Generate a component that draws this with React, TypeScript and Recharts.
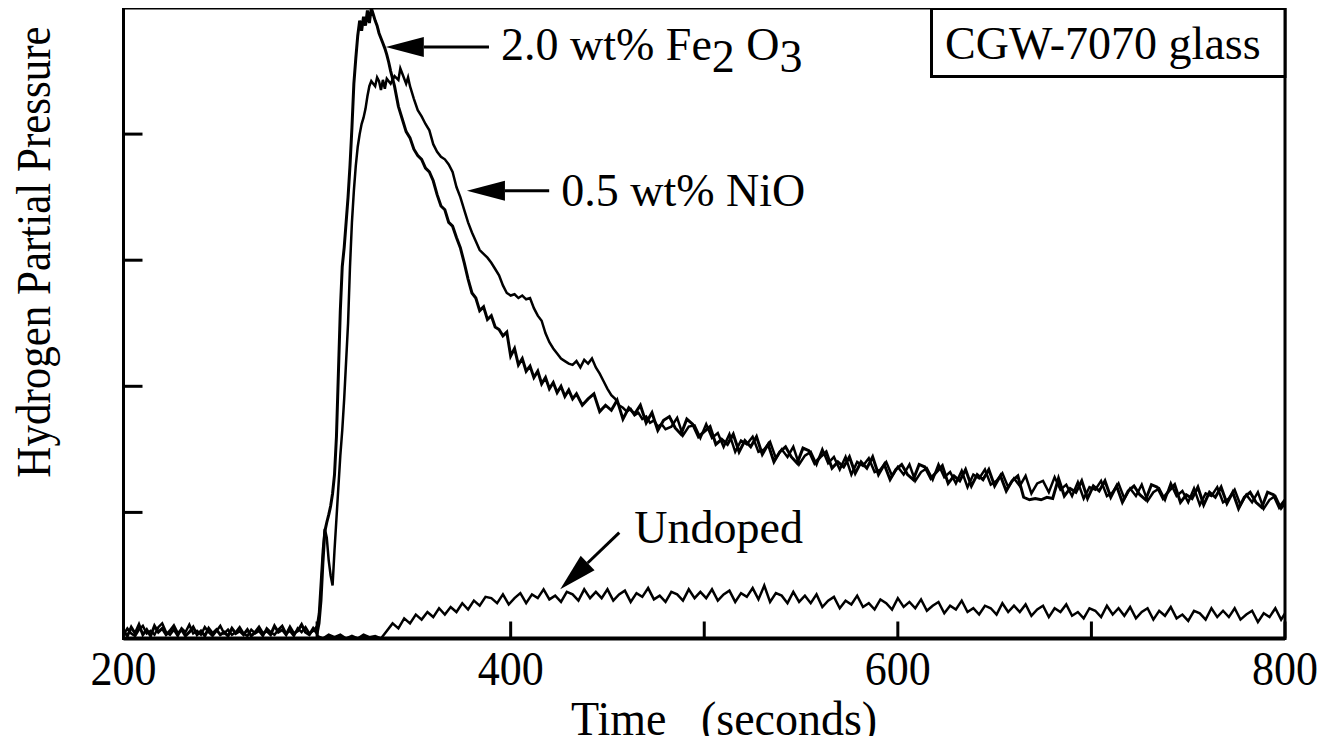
import type { ReactNode } from 'react'
import { LineChart, Line, XAxis, YAxis, ReferenceLine, ReferenceArea } from 'recharts'

const W = 1327
const H = 744
const FONT = '"Liberation Serif", "Times New Roman", serif'
const INK = '#000'

// axis ticks (x labelled every 200 s, y unlabelled)
const X_TICKS = [200, 300, 400, 500, 600, 700, 800]
const X_LABELLED = [200, 400, 600, 800]
const Y_TICKS = [1, 2, 3, 4]

// [time (s), pressure (arb.)]
const FE2O3: [number, number][] = [
  [200, 0.06], [202, 0.02], [204, 0.09], [206, 0.04], [208, 0.11], [210, 0.03], [212, 0.07], [214, 0.02],
  [216, 0.1], [218, 0.05], [220, 0.08], [222, 0.03], [224, 0.06], [226, 0.1], [228, 0.04], [230, 0.07],
  [232, 0.02], [234, 0.05], [236, 0.09], [238, 0.03], [240, 0.06], [242, 0.02], [244, 0.08], [246, 0.04],
  [248, 0.07], [250, 0.03], [252, 0.05], [254, 0.02], [256, 0.08], [258, 0.04], [260, 0.06], [262, 0.03],
  [264, 0.07], [266, 0.02], [268, 0.05], [270, 0.09], [272, 0.04], [274, 0.06], [276, 0.03], [278, 0.1],
  [280, 0.05], [282, 0.07], [284, 0.03], [286, 0.09], [288, 0.04], [290, 0.06], [292, 0.11], [294, 0.05],
  [296, 0.03], [298, 0.08], [300, 0.04],
  [301, 0.12], [302, 0.3], [303, 0.6], [304, 0.85], [305, 0.92], [306, 0.98], [307, 1.05], [308, 1.15],
  [309, 1.3], [310, 1.6], [311, 2.1], [312, 2.6], [313, 2.95], [314, 3.1], [315, 3.3], [316, 3.5],
  [317, 3.75], [318, 4.05], [319, 4.4], [320, 4.6], [321, 4.78], [322, 4.9], [323, 4.82], [324, 4.93],
  [325, 4.86], [326, 4.98], [327, 4.88], [328, 5.0], [329, 4.95], [330, 4.9], [331, 4.86], [332, 4.8],
  [333, 4.76], [334, 4.72], [335, 4.68], [336, 4.63], [337, 4.57], [338, 4.5], [339, 4.44], [340, 4.38],
  [342, 4.22], [344, 4.12], [346, 4.02], [348, 3.97], [350, 3.88], [352, 3.83], [354, 3.8], [356, 3.73],
  [358, 3.7], [360, 3.63], [362, 3.52], [364, 3.43], [366, 3.4], [368, 3.3], [370, 3.27], [372, 3.18],
  [374, 3.1], [376, 2.98], [378, 2.85], [380, 2.74], [382, 2.7], [384, 2.6], [386, 2.63], [388, 2.53],
  [390, 2.56], [392, 2.47], [394, 2.45], [396, 2.4], [398, 2.43], [400, 2.24], [402, 2.3], [404, 2.17],
  [406, 2.22], [408, 2.12], [410, 2.16], [412, 2.07], [414, 2.12], [416, 2.02], [418, 2.07], [420, 1.98],
  [422, 2.03], [424, 1.95], [426, 2.0], [428, 1.92], [430, 1.97], [432, 1.9],
  [434, 1.94], [437, 1.85], [440, 1.9], [443, 1.94], [446, 1.8], [449, 1.85], [452, 1.81], [455, 1.89],
  [458, 1.74], [461, 1.83], [464, 1.78], [467, 1.85], [470, 1.71], [473, 1.79], [476, 1.65], [479, 1.73],
  [482, 1.76], [485, 1.67], [488, 1.62], [491, 1.74], [494, 1.7], [497, 1.6], [500, 1.64], [503, 1.68],
  [506, 1.54], [509, 1.58], [512, 1.54], [515, 1.62], [518, 1.48], [521, 1.57], [524, 1.52], [527, 1.6],
  [530, 1.46], [533, 1.54], [536, 1.4], [539, 1.48], [542, 1.52], [545, 1.44], [548, 1.39], [551, 1.51],
  [554, 1.49], [557, 1.39], [560, 1.44], [563, 1.48], [566, 1.35], [569, 1.4], [572, 1.36], [575, 1.44],
  [578, 1.31], [581, 1.4], [584, 1.35], [587, 1.44], [590, 1.3], [593, 1.38], [596, 1.26], [599, 1.34],
  [602, 1.38], [605, 1.3], [608, 1.26], [611, 1.38], [614, 1.36], [617, 1.27], [620, 1.32], [623, 1.37],
  [626, 1.23], [629, 1.29], [632, 1.25], [635, 1.34], [638, 1.21], [641, 1.3], [644, 1.26], [647, 1.34],
  [650, 1.21], [653, 1.29], [656, 1.17], [659, 1.25], [662, 1.29], [665, 1.12], [668, 1.1], [671, 1.11],
  [674, 1.1], [677, 1.12], [680, 1.11], [683, 1.27], [686, 1.13], [689, 1.19], [692, 1.16], [695, 1.25],
  [698, 1.11], [701, 1.21], [704, 1.17], [707, 1.25], [710, 1.12], [713, 1.21], [716, 1.08], [719, 1.17],
  [722, 1.21], [725, 1.14], [728, 1.1], [731, 1.22], [734, 1.2], [737, 1.11], [740, 1.17], [743, 1.22],
  [746, 1.08], [749, 1.14], [752, 1.11], [755, 1.2], [758, 1.06], [761, 1.16], [764, 1.12], [767, 1.2],
  [770, 1.07], [773, 1.16], [776, 1.03], [779, 1.12], [782, 1.16], [785, 1.08], [788, 1.04], [791, 1.16],
  [794, 1.14], [797, 1.04], [800, 1.1],
]

const NIO: [number, number][] = [
  [200, 0.03], [202, 0.08], [204, 0.04], [206, 0.02], [208, 0.07], [210, 0.1], [212, 0.04], [214, 0.06],
  [216, 0.03], [218, 0.09], [220, 0.12], [222, 0.05], [224, 0.03], [226, 0.07], [228, 0.02], [230, 0.08],
  [232, 0.05], [234, 0.11], [236, 0.04], [238, 0.06], [240, 0.03], [242, 0.09], [244, 0.05], [246, 0.02],
  [248, 0.06], [250, 0.1], [252, 0.04], [254, 0.07], [256, 0.03], [258, 0.05], [260, 0.09], [262, 0.04],
  [264, 0.02], [266, 0.07], [268, 0.04], [270, 0.06], [272, 0.02], [274, 0.08], [276, 0.05], [278, 0.03],
  [280, 0.07], [282, 0.1], [284, 0.04], [286, 0.06], [288, 0.02], [290, 0.08], [292, 0.05], [294, 0.09],
  [296, 0.04], [298, 0.06], [300, 0.1],
  [301, 0.2], [302, 0.45], [303, 0.7], [304, 0.87], [305, 0.8], [306, 0.62], [307, 0.5], [308, 0.42],
  [309, 0.7], [310, 0.95], [311, 1.2], [312, 1.45], [313, 1.65], [314, 1.9], [315, 2.2], [316, 2.5],
  [317, 2.95], [318, 3.3], [319, 3.55], [320, 3.75], [321, 3.9], [322, 4.0], [323, 4.08], [324, 4.13],
  [325, 4.2], [326, 4.3], [327, 4.38], [328, 4.42], [330, 4.38], [331, 4.45], [332, 4.42], [333, 4.35],
  [334, 4.43], [335, 4.36], [336, 4.44], [338, 4.4], [340, 4.46], [342, 4.43], [343, 4.52], [344, 4.48],
  [346, 4.4], [347, 4.45], [348, 4.38], [350, 4.28], [352, 4.19], [354, 4.14], [356, 4.08], [358, 4.03],
  [360, 3.92], [362, 3.86], [364, 3.82], [366, 3.8], [368, 3.76], [370, 3.7], [372, 3.58], [374, 3.5],
  [376, 3.4], [378, 3.3], [380, 3.22], [382, 3.15], [384, 3.08], [386, 3.05], [388, 3.02], [390, 2.98],
  [392, 2.93], [394, 2.88], [396, 2.8], [398, 2.74], [400, 2.72], [402, 2.73], [404, 2.7], [406, 2.72],
  [408, 2.69], [410, 2.7], [412, 2.62], [414, 2.56], [416, 2.52], [418, 2.42], [420, 2.35], [422, 2.3],
  [424, 2.26], [426, 2.22], [428, 2.2], [430, 2.18], [432, 2.17], [434, 2.2], [436, 2.15], [438, 2.21],
  [440, 2.18], [442, 2.22], [444, 2.15], [446, 2.1], [448, 2.04], [450, 1.98], [452, 1.93], [454, 1.9],
  [456, 1.85], [458, 1.83], [460, 1.8], [462, 1.82], [464, 1.77], [466, 1.79], [468, 1.74], [470, 1.76],
  [472, 1.71], [474, 1.73], [476, 1.68], [478, 1.7], [480, 1.66],
  [483, 1.68], [486, 1.75], [489, 1.61], [492, 1.68], [495, 1.69], [498, 1.59], [501, 1.7], [504, 1.59],
  [507, 1.63], [510, 1.52], [513, 1.62], [516, 1.48], [519, 1.57], [522, 1.54], [525, 1.6], [528, 1.48],
  [531, 1.5], [534, 1.56], [537, 1.43], [540, 1.5], [543, 1.44], [546, 1.52], [549, 1.38], [552, 1.45],
  [555, 1.48], [558, 1.38], [561, 1.5], [564, 1.39], [567, 1.44], [570, 1.34], [573, 1.44], [576, 1.3],
  [579, 1.4], [582, 1.37], [585, 1.43], [588, 1.32], [591, 1.34], [594, 1.4], [597, 1.29], [600, 1.36],
  [603, 1.3], [606, 1.38], [609, 1.25], [612, 1.32], [615, 1.35], [618, 1.26], [621, 1.38], [624, 1.28],
  [627, 1.32], [630, 1.23], [633, 1.33], [636, 1.2], [639, 1.3], [642, 1.27], [645, 1.34], [648, 1.22],
  [651, 1.25], [654, 1.31], [657, 1.2], [660, 1.27], [663, 1.21], [666, 1.29], [669, 1.15], [672, 1.23],
  [675, 1.25], [678, 1.16], [681, 1.28], [684, 1.18], [687, 1.22], [690, 1.13], [693, 1.24], [696, 1.11],
  [699, 1.2], [702, 1.18], [705, 1.25], [708, 1.13], [711, 1.16], [714, 1.23], [717, 1.11], [720, 1.19],
  [723, 1.13], [726, 1.22], [729, 1.09], [732, 1.16], [735, 1.19], [738, 1.1], [741, 1.23], [744, 1.13],
  [747, 1.17], [750, 1.08], [753, 1.19], [756, 1.06], [759, 1.15], [762, 1.13], [765, 1.2], [768, 1.08],
  [771, 1.11], [774, 1.18], [777, 1.06], [780, 1.14], [783, 1.08], [786, 1.16], [789, 1.03], [792, 1.1],
  [795, 1.13], [798, 1.03], [800, 1.07],
]

const UNDOPED: [number, number][] = [
  [300, 0.02], [303, 0.0], [306, 0.03], [309, 0.01], [312, 0.03], [315, 0.0], [318, 0.02], [321, 0.0],
  [324, 0.03], [327, 0.01], [330, 0.02], [333, 0.0], [336, 0.06], [339, 0.12], [342, 0.08], [345, 0.16],
  [348, 0.12], [351, 0.19], [354, 0.15], [357, 0.21], [360, 0.17], [363, 0.24], [366, 0.19], [369, 0.25],
  [372, 0.21], [375, 0.28], [378, 0.23], [381, 0.3], [384, 0.26], [387, 0.33],
  [390, 0.32], [393, 0.28], [396, 0.35], [399, 0.27], [402, 0.32], [405, 0.36], [408, 0.28], [411, 0.35],
  [414, 0.32], [417, 0.39], [420, 0.31], [423, 0.34], [426, 0.29], [429, 0.37], [432, 0.35], [435, 0.3],
  [438, 0.39], [441, 0.32], [444, 0.37], [447, 0.32], [450, 0.39], [453, 0.3], [456, 0.35], [459, 0.38],
  [462, 0.29], [465, 0.36], [468, 0.33], [471, 0.4], [474, 0.31], [477, 0.34], [480, 0.29], [483, 0.37],
  [486, 0.35], [489, 0.3], [492, 0.39], [495, 0.32], [498, 0.37], [501, 0.32], [504, 0.39], [507, 0.3],
  [510, 0.35], [513, 0.38], [516, 0.29], [519, 0.36], [522, 0.33], [525, 0.4], [528, 0.31], [531, 0.42],
  [534, 0.29], [537, 0.36], [540, 0.34], [543, 0.28], [546, 0.37], [549, 0.29], [552, 0.34], [555, 0.28],
  [558, 0.35], [561, 0.25], [564, 0.3], [567, 0.33], [570, 0.24], [573, 0.3], [576, 0.27], [579, 0.34],
  [582, 0.25], [585, 0.28], [588, 0.23], [591, 0.31], [594, 0.28], [597, 0.23], [600, 0.32], [603, 0.25],
  [606, 0.29], [609, 0.24], [612, 0.31], [615, 0.22], [618, 0.26], [621, 0.29], [624, 0.2], [627, 0.26],
  [630, 0.23], [633, 0.3], [636, 0.21], [639, 0.24], [642, 0.19], [645, 0.26], [648, 0.24], [651, 0.19],
  [654, 0.28], [657, 0.21], [660, 0.26], [663, 0.21], [666, 0.27], [669, 0.18], [672, 0.23], [675, 0.26],
  [678, 0.17], [681, 0.24], [684, 0.21], [687, 0.27], [690, 0.18], [693, 0.21], [696, 0.16], [699, 0.24],
  [702, 0.22], [705, 0.17], [708, 0.26], [711, 0.19], [714, 0.24], [717, 0.18], [720, 0.25], [723, 0.16],
  [726, 0.21], [729, 0.24], [732, 0.15], [735, 0.22], [738, 0.18], [741, 0.25], [744, 0.16], [747, 0.19],
  [750, 0.14], [753, 0.22], [756, 0.2], [759, 0.15], [762, 0.24], [765, 0.17], [768, 0.22], [771, 0.17],
  [774, 0.24], [777, 0.15], [780, 0.19], [783, 0.22], [786, 0.13], [789, 0.2], [792, 0.17], [795, 0.24],
  [798, 0.15], [800, 0.2],
]

const toRows = (pts: [number, number][]) => pts.map(([t, v]) => ({ t, v }))

// serif text, a touch taller than wide like the scanned original
function Txt({ x, y, size, stretch = 1, anchor = 'start', rotate = 0, children }: {
  x: number; y: number; size: number; stretch?: number; anchor?: string; rotate?: number; children: ReactNode
}) {
  return (
    <text
      transform={`translate(${x} ${y}) rotate(${rotate}) scale(1 ${stretch})`}
      textAnchor={anchor}
      fontSize={size}
      fontFamily={FONT}
      fill={INK}
      style={{ whiteSpace: 'pre' }}
    >
      {children}
    </text>
  )
}

// arrow from tail (x1,y1) to head (x2,y2); label placed relative to the tail
function arrowShape(label: ReactNode, dx: number, dy: number) {
  return (p: any) => {
    const { x1, y1, x2, y2 } = p
    const a = Math.atan2(y2 - y1, x2 - x1)
    const len = 38
    const half = 10
    const bx = x2 - len * Math.cos(a)
    const by = y2 - len * Math.sin(a)
    const nx = -Math.sin(a) * half
    const ny = Math.cos(a) * half
    return (
      <g>
        <line x1={x1} y1={y1} x2={bx} y2={by} stroke={INK} strokeWidth={3} />
        <polygon points={`${x2},${y2} ${bx + nx},${by + ny} ${bx - nx},${by - ny}`} fill={INK} />
        <Txt x={x1 + dx} y={y1 + dy} size={46}>{label}</Txt>
      </g>
    )
  }
}

const XTick = (p: any) => {
  const v = p.payload?.value
  if (!X_LABELLED.includes(v)) return <g />
  return <Txt x={p.x} y={p.y + 31.5} size={44} stretch={1.08} anchor="middle">{String(v)}</Txt>
}

const XTitle = (props: any) => {
  const vb = props.viewBox
  return <Txt x={vb.x + 447.5} y={vb.y + 96.5} size={46} stretch={1.05}>{'Time   (seconds)'}</Txt>
}

const YTitle = (props: any) => {
  const vb = props.viewBox
  return (
    <Txt x={50} y={vb.y + 244} size={43} stretch={1.12} anchor="middle" rotate={-90}>
      Hydrogen Partial Pressure
    </Txt>
  )
}

const FE_LABEL = (
  <>
    {'2.0 wt% Fe'}
    <tspan dy={12}>2</tspan>
    <tspan dy={-12}>{' O'}</tspan>
    <tspan dy={12}>3</tspan>
  </>
)

export default function App() {
  return (
    <div style={{ position: 'relative', width: W, height: H, margin: -8, background: '#fff' }}>
      <LineChart width={W} height={H} margin={{ top: 8, right: 42, bottom: 0, left: 0 }}>
        <XAxis
          type="number"
          dataKey="t"
          domain={[200, 800]}
          ticks={X_TICKS}
          interval={0}
          height={105.5}
          tickSize={-17}
          tickMargin={32}
          tick={<XTick />}
          axisLine={{ stroke: INK, strokeWidth: 4 }}
          tickLine={{ stroke: INK, strokeWidth: 3 }}
          label={<XTitle />}
        />
        <YAxis
          type="number"
          domain={[0, 5]}
          ticks={Y_TICKS}
          width={123.5}
          tickSize={-19}
          tickFormatter={() => ''}
          axisLine={{ stroke: INK, strokeWidth: 3 }}
          tickLine={{ stroke: INK, strokeWidth: 3 }}
          label={<YTitle />}
        />
        <ReferenceArea x1={200} x2={800} y1={0} y2={5} fill="none" stroke={INK} strokeWidth={3} />
        <Line data={toRows(UNDOPED)} dataKey="v" type="linear" stroke={INK} strokeWidth={2.5}
          dot={false} isAnimationActive={false} />
        <Line data={toRows(NIO)} dataKey="v" type="linear" stroke={INK} strokeWidth={2.5}
          dot={false} isAnimationActive={false} />
        <Line data={toRows(FE2O3)} dataKey="v" type="linear" stroke={INK} strokeWidth={3}
          dot={false} isAnimationActive={false} />
        <ReferenceLine
          segment={[{ x: 388.8, y: 4.69 }, { x: 335.5, y: 4.69 }]}
          shape={arrowShape(FE_LABEL, 12, 13)}
        />
        <ReferenceLine
          segment={[{ x: 419.9, y: 3.55 }, { x: 377.4, y: 3.55 }]}
          shape={arrowShape('0.5 wt% NiO', 12, 15)}
        />
        <ReferenceLine
          segment={[{ x: 456.1, y: 0.84 }, { x: 425.6, y: 0.39 }]}
          shape={arrowShape('Undoped', 15, 10)}
        />
      </LineChart>
      <svg width={W} height={H} style={{ position: 'absolute', left: 0, top: 0, pointerEvents: 'none' }}>
        <rect x={931.5} y={8.5} width={353.5} height={68} fill="#fff" stroke={INK} strokeWidth={3} />
        <Txt x={945} y={59} size={46}>CGW-7070 glass</Txt>
      </svg>
    </div>
  )
}
